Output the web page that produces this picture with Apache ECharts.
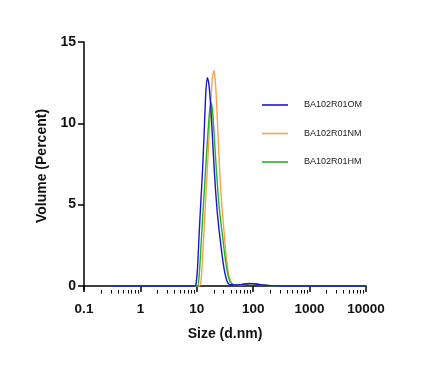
<!DOCTYPE html>
<html>
<head>
<meta charset="utf-8">
<script src="https://cdn.jsdelivr.net/npm/echarts@6/dist/echarts.min.js"></script>
<style>
html,body{margin:0;padding:0;background:#fff;}
#c{width:425px;height:372px;}
</style>
</head>
<body>
<div id="c"></div>
<script>
var seriesNames = ['BA102R01OM', 'BA102R01NM', 'BA102R01HM'];
var sizes = [0.3, 1, 3, 6, 8.5, 9.0, 9.6, 10.3, 11.0, 11.8, 12.6, 13.5, 14.4, 15.4, 16.5, 17.7, 18.9, 20.2, 21.6, 23.1, 24.7, 26.5, 28.3, 30.3, 32.4, 34.7, 37.1, 39.7, 42.5, 45.5, 50, 60, 70, 85, 100, 120, 150, 200, 300, 1000, 10000];
var volOM = [0, 0, 0, 0, 0, 0, 0.05, 1.1, 3.2, 5.2, 7.0, 9.4, 11.8, 12.8, 12.3, 11.0, 9.2, 7.4, 5.8, 4.5, 3.5, 2.6, 1.8, 1.1, 0.6, 0.25, 0.1, 0.08, 0.07, 0.07, 0.06, 0.08, 0.12, 0.15, 0.14, 0.1, 0.06, 0.02, 0, 0, 0];
var volNM = [0, 0, 0, 0, 0, 0, 0, 0, 0, 0.2, 1.6, 3.6, 5.4, 7.2, 9.2, 11.3, 12.8, 13.25, 12.3, 10.3, 8.0, 6.0, 4.6, 3.4, 2.2, 1.3, 0.6, 0.3, 0.15, 0.08, 0.05, 0.06, 0.09, 0.12, 0.12, 0.1, 0.06, 0.02, 0, 0, 0];
var volHM = [0, 0, 0, 0, 0, 0, 0, 0, 0.6, 2.3, 4.0, 5.7, 7.3, 8.9, 10.4, 11.3, 10.9, 9.4, 7.8, 6.3, 5.0, 4.0, 3.2, 2.3, 1.5, 0.9, 0.45, 0.2, 0.1, 0.08, 0.06, 0.07, 0.1, 0.13, 0.13, 0.1, 0.06, 0.02, 0, 0, 0];
var yTicks = [0, 5, 10, 15];
var xMajor = [0.1, 1, 10, 100, 1000, 10000];
var xMinor = [0.2,0.3,0.4,0.5,0.6,0.7,0.8,0.9, 2,3,4,5,6,7,8,9, 20,30,40,50,60,70,80,90, 200,300,400,500,600,700,800,900, 2000,3000,4000,5000,6000,7000,8000,9000];

function pairs(vals) { return sizes.map(function (s, i) { return [s, vals[i]]; }); }

var colors = { OM: '#1717c4', NM: '#f7a24f', HM: '#24b324' };
var font = 'Liberation Sans, Arial, sans-serif';

var chart = echarts.init(document.getElementById('c'), null, { renderer: 'canvas' });
chart.setOption({
  animation: false,
  grid: { left: 84, right: 59, top: 42, bottom: 82, containLabel: false },
  legend: {
    data: seriesNames,
    orient: 'vertical',
    left: 257,
    top: 94,
    icon: 'rect',
    itemWidth: 26,
    itemHeight: 1.6,
    itemGap: 16.5,
    textStyle: { fontFamily: font, fontSize: 9, color: '#222', padding: [0, 0, 0, 11], lineHeight: 12 }
  },
  xAxis: [{
    type: 'log', logBase: 10, min: 0.1, max: 10000,
    name: 'Size (d.nm)', nameLocation: 'middle', nameGap: 37,
    nameTextStyle: { fontFamily: font, fontSize: 14, fontWeight: 'bold', color: '#111' },
    axisLine: { show: true, lineStyle: { color: '#000', width: 1.5 } },
    axisTick: { show: true, inside: false, length: 6, lineStyle: { color: '#000', width: 1.5 }, customValues: xMajor },
    axisLabel: { fontFamily: font, fontSize: 13.5, fontWeight: 'bold', color: '#111', margin: 12, customValues: xMajor,
      formatter: function (v) { return String(+v.toPrecision(6)); } },
    splitLine: { show: false }, minorTick: { show: false }
  }, {
    type: 'log', logBase: 10, min: 0.1, max: 10000, position: 'bottom',
    axisLine: { show: false },
    axisTick: { show: true, inside: false, length: 3.5, lineStyle: { color: '#000', width: 1 }, customValues: xMinor },
    axisLabel: { show: false },
    splitLine: { show: false }
  }],
  yAxis: {
    type: 'value', min: -0.25, max: 15,
    name: 'Volume (Percent)', nameLocation: 'middle', nameGap: 33, nameRotate: 90,
    nameTextStyle: { fontFamily: font, fontSize: 14, fontWeight: 'bold', color: '#111' },
    axisLine: { show: true, lineStyle: { color: '#000', width: 1.5 } },
    axisTick: { show: true, inside: false, length: 6, lineStyle: { color: '#000', width: 1.5 }, customValues: yTicks },
    axisLabel: { fontFamily: font, fontSize: 14, fontWeight: 'bold', color: '#111', margin: 8, customValues: yTicks },
    splitLine: { show: false }
  },
  series: [
    { name: seriesNames[1], type: 'line', data: pairs(volNM), showSymbol: false, symbol: 'none', smooth: 0.2,
      lineStyle: { color: colors.NM, width: 1.4 }, itemStyle: { color: colors.NM }, z: 2 },
    { name: seriesNames[2], type: 'line', data: pairs(volHM), showSymbol: false, symbol: 'none', smooth: 0.2,
      lineStyle: { color: colors.HM, width: 1.4 }, itemStyle: { color: colors.HM }, z: 3 },
    { name: seriesNames[0], type: 'line', data: pairs(volOM), showSymbol: false, symbol: 'none', smooth: 0.2,
      lineStyle: { color: colors.OM, width: 1.4 }, itemStyle: { color: colors.OM }, z: 4 }
  ]
});
</script>
</body>
</html>
